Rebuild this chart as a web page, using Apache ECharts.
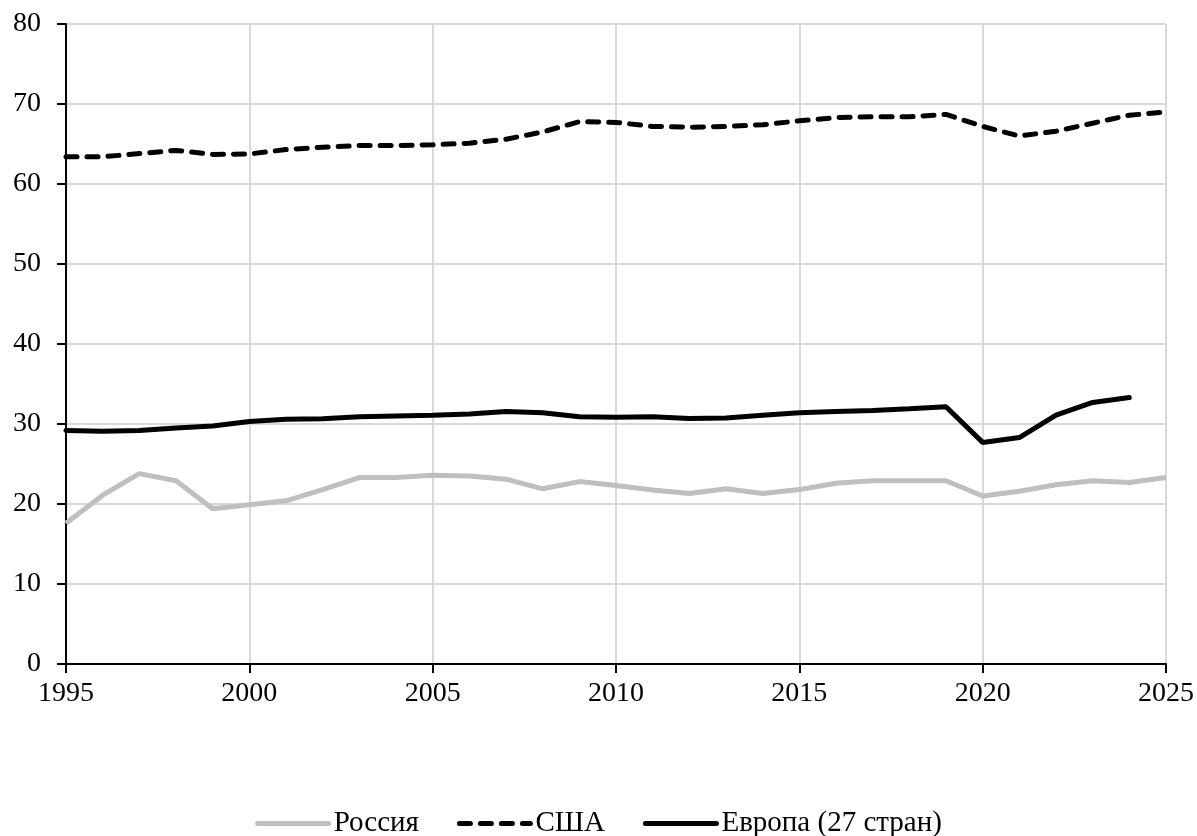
<!DOCTYPE html>
<html>
<head>
<meta charset="utf-8">
<script src="https://cdn.jsdelivr.net/npm/echarts@6/dist/echarts.min.js"></script>
<style>
  html, body { margin: 0; padding: 0; background: #fff; }
  #chart { width: 1197px; height: 836px; }
</style>
</head>
<body>
<div id="chart"></div>
<script>
// years 1995..2025
const years = [1995, 1996, 1997, 1998, 1999, 2000, 2001, 2002, 2003, 2004, 2005,
  2006, 2007, 2008, 2009, 2010, 2011, 2012, 2013, 2014, 2015,
  2016, 2017, 2018, 2019, 2020, 2021, 2022, 2023, 2024, 2025];

const russia = [17.6, 21.1, 23.8, 22.9, 19.4, 19.9, 20.4, 21.8, 23.3, 23.3, 23.6,
  23.5, 23.1, 21.9, 22.8, 22.3, 21.75, 21.3, 21.9, 21.3, 21.8,
  22.6, 22.9, 22.9, 22.9, 21.0, 21.6, 22.4, 22.9, 22.7, 23.3];

const usa = [63.4, 63.4, 63.8, 64.2, 63.7, 63.75, 64.3, 64.6, 64.8, 64.8, 64.9,
  65.1, 65.6, 66.5, 67.8, 67.7, 67.2, 67.1, 67.2, 67.4, 67.9,
  68.3, 68.4, 68.4, 68.7, 67.2, 66.0, 66.6, 67.6, 68.6, 69.0];

// no value for 2025
const europe = [29.2, 29.1, 29.2, 29.5, 29.75, 30.3, 30.6, 30.65, 30.9, 31.0, 31.1,
  31.25, 31.55, 31.4, 30.9, 30.85, 30.9, 30.7, 30.75, 31.1, 31.4,
  31.55, 31.7, 31.9, 32.15, 27.7, 28.3, 31.1, 32.7, 33.3, null];

const yTicks = { min: 0, max: 80, step: 10 };

const pairs = (arr) => years.map((y, i) => [y, arr[i]]).filter(p => p[1] !== null);

const font = 'Liberation Serif, Times New Roman, serif';

const myChart = echarts.init(document.getElementById('chart'));
myChart.setOption({
  animation: false,
  grid: { left: 66, right: 31, top: 24, bottom: 172 },
  legend: {
    top: 804,
    left: 'center',
    itemWidth: 71,
    itemHeight: 16,
    itemGap: 38,
    itemStyle: { opacity: 0 },
    lineStyle: { width: 5, cap: 'round' },
    textStyle: { fontFamily: font, fontSize: 29, color: '#000' },
    data: ['Россия', 'США', 'Европа (27 стран)']
  },
  xAxis: {
    type: 'value',
    min: 1995,
    max: 2025,
    interval: 5,
    axisLine: { show: true, onZero: false, lineStyle: { color: '#000', width: 2 } },
    axisTick: { show: true, length: 9, lineStyle: { color: '#000', width: 2 } },
    axisLabel: { fontFamily: font, fontSize: 28, color: '#000', margin: 16, formatter: (v) => String(v) },
    splitLine: { show: true, lineStyle: { color: '#d9d9d9', width: 2 } }
  },
  yAxis: {
    type: 'value',
    min: yTicks.min,
    max: yTicks.max,
    interval: yTicks.step,
    axisLine: { show: true, lineStyle: { color: '#000', width: 2 } },
    axisTick: { show: true, length: 9, lineStyle: { color: '#000', width: 2 } },
    axisLabel: { fontFamily: font, fontSize: 28, color: '#000', margin: 25 },
    splitLine: { show: true, lineStyle: { color: '#d9d9d9', width: 2 } }
  },
  series: [
    {
      name: 'Россия',
      type: 'line',
      symbol: 'none',
      data: pairs(russia),
      lineStyle: { color: '#bfbfbf', width: 5 },
      itemStyle: { color: '#bfbfbf' },
      z: 3
    },
    {
      name: 'США',
      type: 'line',
      symbol: 'none',
      data: pairs(usa),
      lineStyle: { color: '#000', width: 5, type: [11, 10], cap: 'round' },
      itemStyle: { color: '#000' },
      z: 4
    },
    {
      name: 'Европа (27 стран)',
      type: 'line',
      symbol: 'none',
      data: pairs(europe),
      lineStyle: { color: '#000', width: 5, cap: 'round' },
      itemStyle: { color: '#000' },
      z: 5
    }
  ]
});
</script>
</body>
</html>
